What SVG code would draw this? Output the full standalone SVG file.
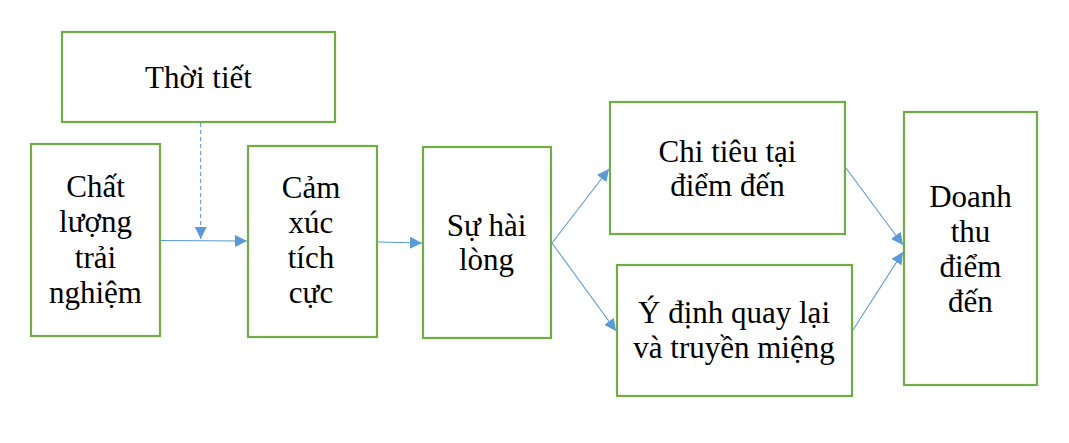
<svg xmlns="http://www.w3.org/2000/svg" width="1069" height="443" viewBox="0 0 1069 443">
<defs>
<style>
.box{fill:#fff;stroke:#70AD47;stroke-width:2.2}
text{font-family:'Liberation Serif','Times New Roman','DejaVu Serif',serif;font-size:31px;fill:#000;text-anchor:middle}
.c{fill:none;stroke:#5B9BD5;stroke-width:1.1}
.d{stroke-dasharray:4 3}
</style>
<marker id="ah" viewBox="0 0 12 12" refX="12" refY="6" markerWidth="12" markerHeight="12" markerUnits="userSpaceOnUse" orient="auto">
<path d="M0,0 L12,6 L0,12 Z" fill="#5B9BD5"/>
</marker>
</defs>
<rect width="1069" height="443" fill="#fff"/>
<g font-family="'Liberation Serif', 'Times New Roman', serif" font-size="31" text-anchor="middle">
<g id="n-thoitiet">
<rect class="box" x="62" y="32" width="273" height="90"/>
<text x="198.5" y="88">Thời tiết</text>
</g>
<g id="n-chatluong">
<rect class="box" x="31" y="144" width="129" height="192"/>
<text x="95.5" y="197">Chất</text>
<text x="95.5" y="232">lượng</text>
<text x="95.5" y="268">trải</text>
<text x="95.5" y="303">nghiệm</text>
</g>
<g id="n-camxuc">
<rect class="box" x="248" y="146" width="129" height="191"/>
<text x="311" y="198">Cảm</text>
<text x="311" y="233">xúc</text>
<text x="311" y="268">tích</text>
<text x="311" y="303">cực</text>
</g>
<g id="n-suhailong">
<rect class="box" x="423" y="147" width="128" height="191"/>
<text x="486.5" y="236">Sự hài</text>
<text x="486.5" y="270">lòng</text>
</g>
<g id="n-chitieu">
<rect class="box" x="610" y="102" width="235" height="132"/>
<text x="727.5" y="162">Chi tiêu tại</text>
<text x="727.5" y="196">điểm đến</text>
</g>
<g id="n-ydinh">
<rect class="box" x="617" y="265" width="235" height="131"/>
<text x="734" y="323">Ý định quay lại</text>
<text x="734" y="358">và truyền miệng</text>
</g>
<g id="n-doanhthu">
<rect class="box" x="904" y="112" width="133" height="273"/>
<text x="970.5" y="207">Doanh</text>
<text x="970.5" y="242">thu</text>
<text x="970.5" y="277">điểm</text>
<text x="970.5" y="312">đến</text>
</g>
</g>
<g id="connectors">
<line class="c d" x1="200.7" y1="123" x2="200.7" y2="239" marker-end="url(#ah)"/>
<line class="c" x1="161" y1="240.5" x2="247" y2="241" marker-end="url(#ah)"/>
<line class="c" x1="378" y1="242" x2="422" y2="243" marker-end="url(#ah)"/>
<line class="c" x1="552" y1="243" x2="609" y2="169" marker-end="url(#ah)"/>
<line class="c" x1="552" y1="243" x2="616" y2="331" marker-end="url(#ah)"/>
<line class="c" x1="846" y1="168" x2="903" y2="245" marker-end="url(#ah)"/>
<line class="c" x1="853" y1="330" x2="903" y2="252" marker-end="url(#ah)"/>
</g>
</svg>
